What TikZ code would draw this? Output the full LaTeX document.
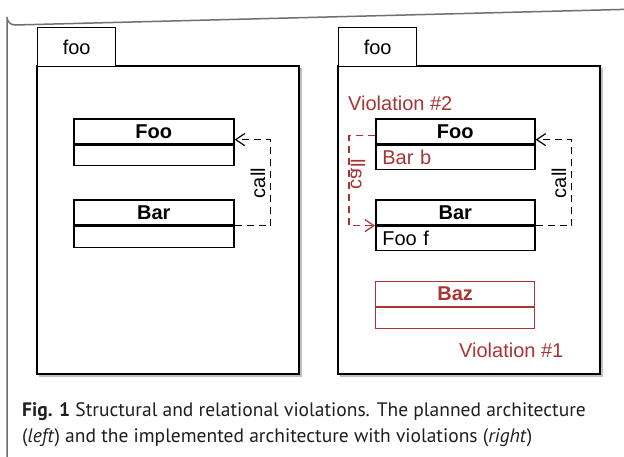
\documentclass[tikz,border=0pt]{standalone}
\usepackage{fontspec}
\setmainfont{Liberation Sans}
\newfontfamily\capfont{PT Sans}
\usetikzlibrary{arrows.meta,calc}
\definecolor{viol}{HTML}{A83434}
\definecolor{framegray}{HTML}{707070}
\tikzset{
  pkg/.style={draw=black,line width=1.4pt,fill=white,inner sep=0pt},
  cls/.style={draw=black,line width=1.6pt,inner sep=0pt,minimum width=160pt,anchor=north west},
  clshead/.style={cls,minimum height=25pt,font=\fontsize{20}{20}\selectfont\bfseries},
  clsbody/.style={cls,minimum height=21pt,font=\fontsize{20}{20}\selectfont,align=left,text width=146pt},
  redcls/.style={draw=viol,text=viol},
  lbl/.style={font=\fontsize{20}{20}\selectfont},
  dep/.style={dashed,dash pattern=on 7pt off 5pt,line width=1.3pt,-{Straight Barb[length=9pt,width=12pt,line width=1.2pt]}},
  shadowbox/.style={fill=black,opacity=0.25}
}
\begin{document}
\begin{tikzpicture}[x=1pt,y=-1pt]
\useasboundingbox (0,0) rectangle (624,457);
\fill[white] (0,0) rectangle (624,457);
% outer frame
\draw[framegray,line width=1.5pt] (7,470) -- (7,17) arc[start angle=180,end angle=90,radius=8] -- (640,9);

% ---------- left package ----------
\fill[shadowbox] (39,68) rectangle (302,377);
\draw[pkg] (37,66) rectangle (299,374);
\node[pkg,draw,minimum width=78pt,minimum height=39pt,anchor=north west,lbl] (tabL) at (37,27) {foo};

\node[clshead] (FooLh) at (73,118) {Foo};
\node[clsbody,minimum height=20pt] (FooLb) at (FooLh.south west) {};
\node[clshead] (BarLh) at (73,199) {Bar};
\node[clsbody] (BarLb) at (BarLh.south west) {};

\coordinate (cL1) at ($(BarLh.south east)+(36,0)$);
\coordinate (cL2) at ($(FooLh.south east)+(36,-5)$);
\coordinate (cL3) at ($(FooLh.south east)+(0,-5)$);
\draw[dep] (BarLh.south east) -- (cL1) -- (cL2) -- (cL3);
\node[lbl,rotate=90] (callL) at (258,183) {call};

% ---------- right package ----------
\fill[shadowbox] (340,68) rectangle (603,377);
\draw[pkg] (338,66) rectangle (600,374);
\node[pkg,draw,minimum width=78pt,minimum height=39pt,anchor=north west,lbl] (tabR) at (338,27) {foo};

\node[lbl,text=viol,anchor=west,inner sep=0pt] (v2) at (348,103) {Violation \#2};
\node[clshead,minimum width=159pt] (FooRh) at (375,118) {Foo};
\node[clsbody,minimum width=159pt,minimum height=24pt,text=viol] (FooRb) at (FooRh.south west) {Bar b};
\node[clshead,minimum width=159pt] (BarRh) at (375,199) {Bar};
\node[clsbody,minimum width=159pt,minimum height=24pt] (BarRb) at (BarRh.south west) {Foo f};
\node[clshead,minimum width=159pt,redcls,line width=1.2pt] (BazRh) at (375,281) {Baz};
\node[clsbody,minimum width=159pt,redcls,line width=1.2pt] (BazRb) at (BazRh.south west) {};
\node[lbl,text=viol,anchor=west,inner sep=0pt] (v1) at (459,350) {Violation \#1};

\coordinate (cR1) at ($(BarRh.south east)+(36,0)$);
\coordinate (cR2) at ($(FooRh.south east)+(36,-5)$);
\coordinate (cR3) at ($(FooRh.south east)+(0,-5)$);
\draw[dep] (BarRh.south east) -- (cR1) -- (cR2) -- (cR3);
\node[lbl,rotate=90] (callR) at (559,183) {call};

\coordinate (rA) at ($(FooRh.south west)+(0,-9)$);
\coordinate (rB) at ($(FooRh.south west)+(-26,-9)$);
\coordinate (rC) at ($(BarRh.south west)+(-26,0)$);
\draw[dep,viol,line width=1.1pt] (rA) -- (rB) -- (rC) -- (BarRh.south west);
\node[lbl,rotate=-90,xscale=-1,text=viol] (callV) at (358,174) {call};

% ---------- caption ----------
\node[anchor=base west,inner sep=0pt,align=left,text=black!88,font=\capfont\fontsize{19.5}{26}\selectfont] (cap) at (22,442)
  {\textbf{Fig. 1} Structural and relational violations. The planned architecture\\
   (\textit{left}) and the implemented architecture with violations (\textit{right})};
\end{tikzpicture}
\end{document}
